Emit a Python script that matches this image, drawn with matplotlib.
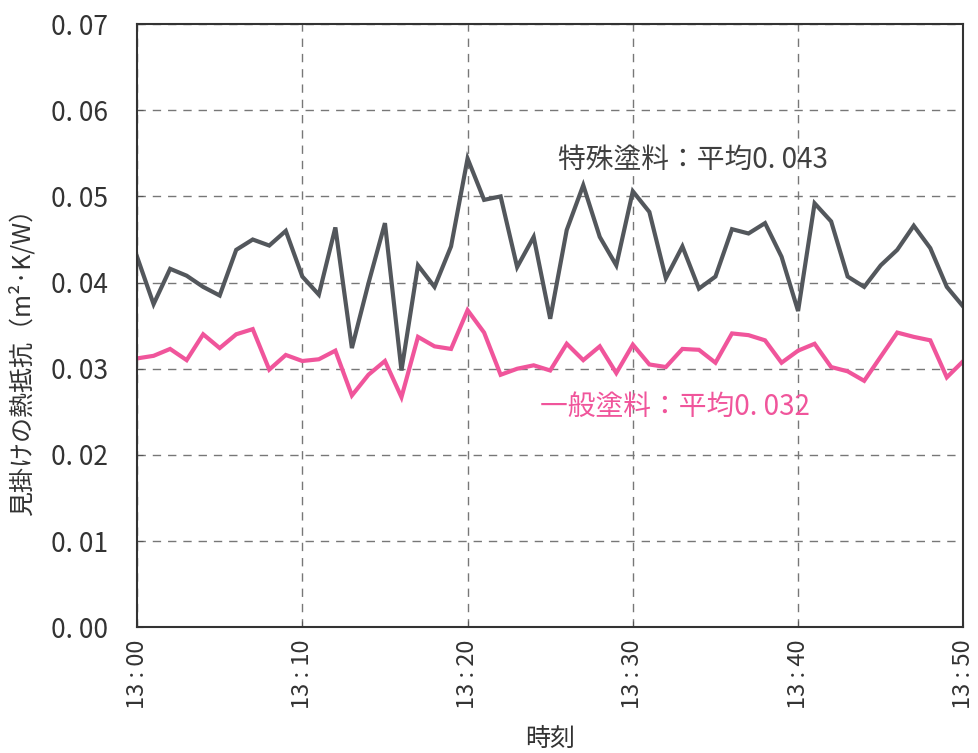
import matplotlib
matplotlib.use("Agg")
import matplotlib.pyplot as plt
import numpy as np

# minutes after 13:00, one reading per minute
minutes = list(range(0, 51))

# special coating (gray line)
special = [
    0.0430, 0.0375, 0.0416, 0.0408, 0.0395, 0.0385, 0.0438, 0.0450, 0.0443, 0.0460,
    0.0407, 0.0386, 0.0464, 0.0324, 0.0399, 0.0469, 0.0298, 0.0420, 0.0395, 0.0442,
    0.0544, 0.0496, 0.0500, 0.0418, 0.0453, 0.0358, 0.0461, 0.0513, 0.0453, 0.0420,
    0.0506, 0.0482, 0.0405, 0.0442, 0.0393, 0.0407, 0.0462, 0.0457, 0.0469, 0.0430,
    0.0367, 0.0492, 0.0471, 0.0407, 0.0395, 0.0420, 0.0438, 0.0466, 0.0440, 0.0395,
    0.0372,
]

# general coating (pink line)
general = [
    0.0312, 0.0315, 0.0323, 0.0310, 0.0340, 0.0324, 0.0340, 0.0346, 0.0299, 0.0316,
    0.0309, 0.0311, 0.0321, 0.0269, 0.0293, 0.0309, 0.0267, 0.0337, 0.0326, 0.0323,
    0.0368, 0.0342, 0.0293, 0.0300, 0.0304, 0.0298, 0.0329, 0.0310, 0.0326, 0.0295,
    0.0328, 0.0305, 0.0302, 0.0323, 0.0322, 0.0307, 0.0341, 0.0339, 0.0333, 0.0307,
    0.0321, 0.0329, 0.0302, 0.0297, 0.0286, 0.0314, 0.0342, 0.0337, 0.0333, 0.0290,
    0.0309,
]

x_ticks = [0, 10, 20, 30, 40, 50]
x_labels = ["13 : 00", "13 : 10", "13 : 20", "13 : 30", "13 : 40", "13 : 50"]
y_ticks = [0.00, 0.01, 0.02, 0.03, 0.04, 0.05, 0.06, 0.07]
y_labels = ["0. 00", "0. 01", "0. 02", "0. 03", "0. 04", "0. 05", "0. 06", "0. 07"]

label_special = "特殊塗料：平均0. 043"
label_general = "一般塗料：平均0. 032"

plt.rcParams["font.family"] = ["Noto Sans CJK JP", "DejaVu Sans"]

GRAY = "#53575c"
PINK = "#f0559b"

fig = plt.figure(figsize=(9.79, 7.53), dpi=100)
ax = fig.add_axes([0.140, 0.167, 0.844, 0.801])

ax.plot(minutes, special, color=GRAY, lw=3.0, solid_joinstyle="miter")
ax.plot(minutes, general, color=PINK, lw=3.0, solid_joinstyle="miter")

ax.set_xlim(0, 50)
ax.set_ylim(0, 0.07)
ax.set_xticks(x_ticks)
ax.set_xticklabels(x_labels, rotation=90, fontsize=17, color="#333333")
ax.set_yticks(y_ticks)
ax.set_yticklabels(y_labels, fontsize=19, color="#333333")
ax.tick_params(direction="in", length=4, color="#555555")
ax.tick_params(axis="x", pad=9)
ax.tick_params(axis="y", pad=21)

ax.grid(True, linestyle=(0, (6, 5)), color="#777777", lw=1.0)
for sp in ax.spines.values():
    sp.set_color("#333333")
    sp.set_linewidth(1.5)

ax.set_ylabel("見掛けの熱抵抗（m²·K/W）", fontsize=18, color="#333333")
ax.yaxis.set_label_coords(-0.123, 0.45)
ax.set_xlabel("時刻", fontsize=18, color="#333333", labelpad=12)

ax.text(25.5, 0.0542, label_special, fontsize=20, color="#404040", va="center", ha="left")
ax.text(24.4, 0.0256, label_general, fontsize=20, color=PINK, va="center", ha="left")

fig.savefig("out.png", dpi=100)
